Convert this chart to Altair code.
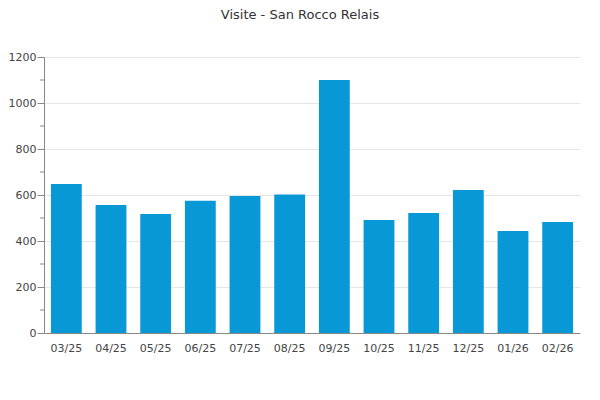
import altair as alt
import pandas as pd

months = ["03/25", "04/25", "05/25", "06/25", "07/25", "08/25",
          "09/25", "10/25", "11/25", "12/25", "01/26", "02/26"]
visits = [648, 557, 517, 575, 596, 602, 1100, 491, 522, 622, 443, 483]
minor_ticks = [100, 300, 500, 700, 900, 1100]

df = pd.DataFrame({"month": months, "visits": visits})
minor_df = pd.DataFrame({"v": minor_ticks})

FONT = "DejaVu Sans"

bars = alt.Chart(df).mark_bar(color="#0798d5").encode(
    x=alt.X("month:N", sort=months, title=None,
            scale=alt.Scale(paddingInner=0.31, paddingOuter=0.155),
            axis=alt.Axis(labelAngle=0, ticks=False, labelPadding=9,
                          labelFontSize=11, labelColor="#444444", labelFont=FONT,
                          domainColor="#888888", grid=False)),
    y=alt.Y("visits:Q", title=None,
            scale=alt.Scale(domain=[0, 1200], nice=False),
            axis=alt.Axis(values=[0, 200, 400, 600, 800, 1000, 1200], format="d",
                          tickSize=7, tickColor="#888888", labelPadding=1,
                          labelFontSize=11, labelColor="#444444", labelFont=FONT,
                          domainColor="#888888", gridColor="#e6e6e6")),
)

minor = alt.Chart(minor_df).mark_rule(color="#888888").encode(
    y=alt.Y("v:Q"),
    x=alt.value(-4),
    x2=alt.value(0),
)

chart = alt.layer(bars, minor).properties(
    width=536,
    height=276,
    title=alt.TitleParams("Visite - San Rocco Relais", fontSize=13, fontWeight="normal",
                          font=FONT, color="#333333", offset=29, dx=-12),
    autosize=alt.AutoSizeParams(type="none"),
    padding={"left": 36, "top": 49, "right": 12, "bottom": 51},
).configure_view(stroke=None)

chart.save("out.html", embed_options={"renderer": "svg", "actions": False})
